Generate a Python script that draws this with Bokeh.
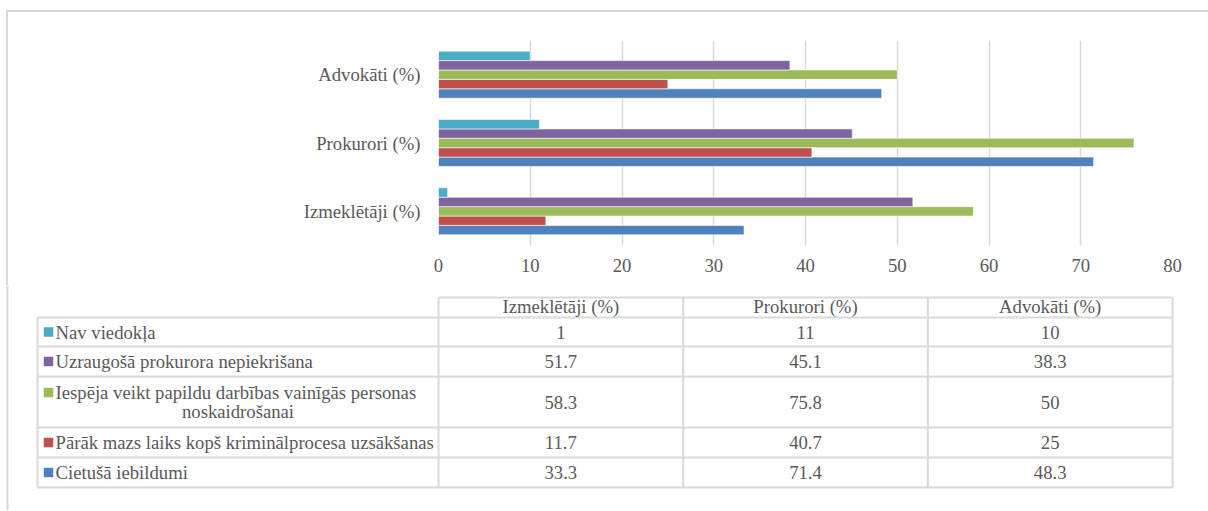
import textwrap
from bokeh.plotting import figure
from bokeh.models import FactorRange, Range1d, ColumnDataSource, FixedTicker
from bokeh.transform import dodge
from bokeh.core.properties import value
from bokeh.embed import file_html
from bokeh.resources import INLINE

# ---------------- data ----------------
groups = ["Izmeklētāji (%)", "Prokurori (%)", "Advokāti (%)"]
series_names = [
    "Cietušā iebildumi",
    "Pārāk mazs laiks kopš kriminālprocesa uzsākšanas",
    "Iespēja veikt papildu darbības vainīgās personas noskaidrošanai",
    "Uzraugošā prokurora nepiekrišana",
    "Nav viedokļa",
]
cietusa_iebildumi = [33.3, 71.4, 48.3]
parak_mazs_laiks = [11.7, 40.7, 25]
iespeja_veikt = [58.3, 75.8, 50]
uzraugosa_nepiekrisana = [51.7, 45.1, 38.3]
nav_viedokla = [1, 11, 10]
x_ticks = [0, 10, 20, 30, 40, 50, 60, 70, 80]

series_values = [cietusa_iebildumi, parak_mazs_laiks, iespeja_veikt,
                 uzraugosa_nepiekrisana, nav_viedokla]
colors = ["#4F81BD", "#C0504D", "#9BBB59", "#8064A2", "#4BACC6"]

FONT = "Liberation Serif"
FSIZE = "18.7px"
TXT = "#595959"
GRID = "#d9d9d9"

# ---------------- bar chart ----------------
W = 1208
FL, FR, FT, FH, FB = 438, 36, 40, 205, 40

p = figure(width=W, height=FT + FH + FB,
           y_range=FactorRange(factors=groups, range_padding=0),
           x_range=Range1d(0, 80),
           output_backend="svg", toolbar_location=None,
           min_border_left=FL, min_border_right=FR,
           min_border_top=FT, min_border_bottom=FB)
p.border_fill_color = None
p.background_fill_color = None
p.outline_line_color = None
# outer chart-area border (left and top edge), drawn behind the transparent canvas
p.styles = {"box-shadow": ("inset 0 10px 0 0 #ffffff, inset 6px 0 0 0 #ffffff, "
                           "inset 8px 0 0 0 #d9d9d9, inset 0 12px 0 0 #d9d9d9")}

data = {"group": groups}
for i, vals in enumerate(series_values):
    data[f"s{i}"] = vals
src = ColumnDataSource(data)

bar_h = 0.1376
for i, col in enumerate(colors):
    p.hbar(y=dodge("group", (i - 2) * bar_h, range=p.y_range),
           left=0, right=f"s{i}", height=bar_h, source=src,
           fill_color=col, line_color="white", line_width=0.6)

p.xaxis.ticker = FixedTicker(ticks=x_ticks)
for ax in (p.xaxis[0], p.yaxis[0]):
    ax.axis_line_color = None
    ax.major_tick_line_color = None
    ax.minor_tick_line_color = None
    ax.major_tick_out = 0
    ax.major_tick_in = 0
    ax.minor_tick_out = 0
    ax.major_label_text_font = FONT
    ax.major_label_text_font_size = FSIZE
    ax.major_label_text_color = TXT
p.xaxis.major_label_standoff = 13
p.yaxis.major_label_standoff = 18
p.xgrid.grid_line_color = GRID
p.xgrid.grid_line_width = 1.5
p.ygrid.grid_line_color = None

# ---------------- data table ----------------
TOP = FT + FH + FB          # page y where table figure starts
TH = 225
t = figure(width=W, height=TH,
           x_range=Range1d(0, W), y_range=Range1d(TOP + TH, TOP),
           output_backend="svg", toolbar_location=None,
           x_axis_type=None, y_axis_type=None, min_border=0)
t.outline_line_color = None
t.border_fill_color = None
t.background_fill_color = None
t.grid.visible = False

frame_left = FL
frame_right = W - FR
col_edges = [frame_left + k * (frame_right - frame_left) / 3 for k in range(4)]
col_centers = [(col_edges[k] + col_edges[k + 1]) / 2 for k in range(3)]
legend_left = 37
header_top = 297
row_edges = [317, 346, 376, 427, 457, 487]

# outer border continues on the left
t.segment(x0=[7], y0=[TOP - 2], x1=[7], y1=[TOP + TH], line_color=GRID, line_width=2)

x0s, y0s, x1s, y1s = [], [], [], []
x0s.append(frame_left); x1s.append(frame_right); y0s.append(header_top); y1s.append(header_top)
for y in row_edges:
    x0s.append(legend_left); x1s.append(frame_right); y0s.append(y); y1s.append(y)
x0s.append(legend_left); x1s.append(legend_left); y0s.append(row_edges[0]); y1s.append(row_edges[-1])
for x in col_edges:
    x0s.append(x); x1s.append(x); y0s.append(header_top); y1s.append(row_edges[-1])
t.segment(x0=x0s, y0=y0s, x1=x1s, y1=y1s, line_color=GRID, line_width=2)

common = dict(text_font=value(FONT), text_font_size=FSIZE, text_color=TXT,
              text_baseline="middle")
# header
t.text(x=col_centers, y=[(header_top + row_edges[0]) / 2 - 1] * 3, text=groups,
       text_align="center", **common)

# rows, top to bottom = reversed series order
order = list(range(len(series_names)))[::-1]
sq_x, sq_y, sq_c = [], [], []
lx, ly, lt = [], [], []
cx, cy, ct = [], [], []
vx, vy, vt = [], [], []
for r, si in enumerate(order):
    top, bot = row_edges[r], row_edges[r + 1]
    lines = textwrap.wrap(series_names[si], 48)
    if len(lines) == 1:
        first_y = (top + bot) / 2
    else:
        first_y = top + 16
        cx.append((legend_left + frame_left) / 2)
        cy.append(first_y + 19)
        ct.append(lines[1])
    sq_x.append(48); sq_y.append(first_y); sq_c.append(colors[si])
    lx.append(55); ly.append(first_y); lt.append(lines[0])
    for k in range(3):
        vx.append(col_centers[k]); vy.append((top + bot) / 2)
        vt.append(f"{series_values[si][k]:g}")

t.rect(x=sq_x, y=sq_y, width=9.5, height=9.5, fill_color=sq_c, line_color=None)
t.text(x=lx, y=ly, text=lt, text_align="left", **common)
t.text(x=cx, y=cy, text=ct, text_align="center", **common)
t.text(x=vx, y=vy, text=vt, text_align="center", **common)

open("out.html", "w").write(file_html([p, t], INLINE))
